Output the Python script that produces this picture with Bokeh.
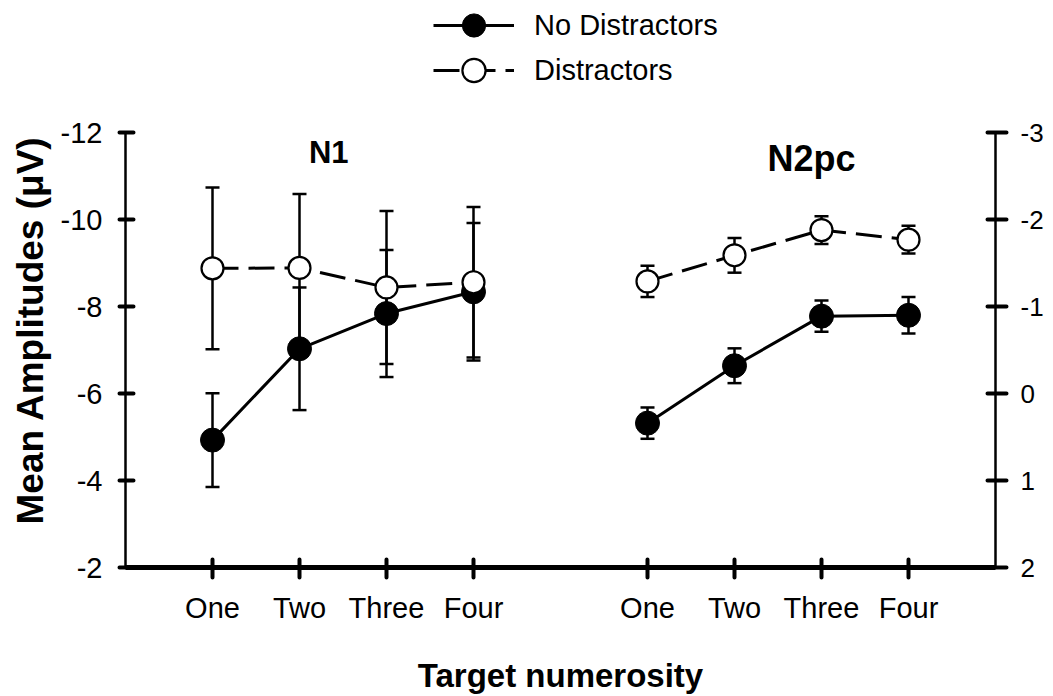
from bokeh.plotting import figure
from bokeh.models import (Range1d, LinearAxis, FixedTicker, Whisker, TeeHead,
                          ColumnDataSource, Legend, LegendItem, Label, Title)
from bokeh.embed import file_html
from bokeh.resources import INLINE

# ---------------- data ----------------
categories = ["One", "Two", "Three", "Four"]
panels = ["N1", "N2pc"]

n1_nodist = [-4.93, -7.03, -7.84, -8.34]
n1_nodist_err = [1.08, 1.41, 1.46, 1.58]
n1_dist = [-8.88, -8.89, -8.44, -8.56]
n1_dist_err = [1.86, 1.70, 1.76, 1.73]

n2pc_nodist = [0.34, -0.32, -0.89, -0.90]
n2pc_nodist_err = [0.18, 0.20, 0.18, 0.21]
n2pc_dist = [-1.29, -1.59, -1.88, -1.77]
n2pc_dist_err = [0.18, 0.20, 0.16, 0.16]

left_ticks = [-12, -10, -8, -6, -4, -2]
right_ticks = [-3, -2, -1, 0, 1, 2]

series_labels = ["No Distractors", "Distractors"]
y_title = "Mean Amplitudes (\u03bcV)"
x_title = "Target numerosity"

# ---------------- layout ----------------
FONT = "Liberation Sans"
W, H = 1053, 696
BL, BR, BB = 124, 58, 128
frame_h = H - BB
px_per_unit = 435.6 / 10.0
y_top = left_ticks[-1] - frame_h / px_per_unit
right_top = (y_top + 6) / 2.0  # right = (left + 6) / 2

x_n1 = [i + 1 for i in range(len(categories))]
x_n2 = [i + 6 for i in range(len(categories))]

p = figure(width=W, height=H, output_backend="svg", toolbar_location=None,
           title=None,
           x_range=Range1d(0, 10), y_range=Range1d(left_ticks[-1], y_top),
           min_border_left=BL, min_border_right=BR, min_border_top=0,
           min_border_bottom=BB)
p.extra_y_ranges = {"right": Range1d(right_ticks[-1], right_top)}
p.outline_line_color = None
p.xgrid.visible = False
p.ygrid.visible = False
p.background_fill_color = "white"
p.border_fill_color = "white"

# y-axis title as a left-side title (so it can be offset along the axis)
ytitle = Title(text=y_title, align="left", offset=43, vertical_align="bottom",
               text_font=FONT, text_font_size="37px", text_font_style="bold",
               text_color="black", standoff=14)
p.add_layout(ytitle, "left")

# left axis
ya = p.yaxis[0]
ya.bounds = (left_ticks[0], left_ticks[-1])
ya.ticker = FixedTicker(ticks=left_ticks)
ya.major_label_overrides = {t: str(t) for t in left_ticks}
ya.axis_line_width = 2.5
ya.axis_line_color = "black"
ya.major_tick_line_width = 4
ya.major_tick_line_cap = "round"
ya.major_tick_in = 8
ya.major_tick_out = 6
ya.minor_tick_line_color = None
ya.major_label_text_font = FONT
ya.major_label_text_font_size = "29px"
ya.major_label_text_color = "black"
ya.major_label_standoff = 17

# bottom axis
xa = p.xaxis[0]
xa.ticker = FixedTicker(ticks=x_n1 + x_n2)
xa.major_label_overrides = {x: c for x, c in zip(x_n1 + x_n2, categories + categories)}
xa.axis_line_width = 5
xa.axis_line_color = "black"
xa.major_tick_line_width = 4
xa.major_tick_line_cap = "round"
xa.major_tick_in = 8
xa.major_tick_out = 10
xa.minor_tick_line_color = None
xa.major_label_text_font = FONT
xa.major_label_text_font_size = "29px"
xa.major_label_text_color = "black"
xa.major_label_standoff = 14
xa.axis_label = x_title
xa.axis_label_text_font = FONT
xa.axis_label_text_font_size = "33px"
xa.axis_label_text_font_style = "bold"
xa.axis_label_text_color = "black"
xa.axis_label_standoff = 30

# right axis
ra = LinearAxis(y_range_name="right", bounds=(right_ticks[0], right_ticks[-1]),
                ticker=FixedTicker(ticks=right_ticks))
ra.major_label_overrides = {t: str(t) for t in right_ticks}
ra.axis_line_width = 2.5
ra.axis_line_color = "black"
ra.major_tick_line_width = 4
ra.major_tick_line_cap = "round"
ra.major_tick_in = 8
ra.major_tick_out = 11
ra.minor_tick_line_color = None
ra.major_label_text_font = FONT
ra.major_label_text_font_size = "26px"
ra.major_label_text_color = "black"
ra.major_label_standoff = 14
p.add_layout(ra, "right")


def whiskers(xs, ys, es, rng=None):
    src = ColumnDataSource(dict(x=xs, upper=[y - e for y, e in zip(ys, es)],
                                lower=[y + e for y, e in zip(ys, es)]))
    kw = {}
    if rng:
        kw["y_range_name"] = rng
    w = Whisker(source=src, base="x", upper="upper", lower="lower",
                line_width=2.5, line_color="black",
                upper_head=TeeHead(size=14, line_width=2.5, line_color="black"),
                lower_head=TeeHead(size=14, line_width=2.5, line_color="black"),
                **kw)
    p.add_layout(w)


whiskers(x_n1, n1_nodist, n1_nodist_err)
whiskers(x_n1, n1_dist, n1_dist_err)
whiskers(x_n2, n2pc_nodist, n2pc_nodist_err, "right")
whiskers(x_n2, n2pc_dist, n2pc_dist_err, "right")

DASH = "26 10"
l1 = p.line(x_n1, n1_nodist, line_width=3, line_color="black")
p.line(x_n2, n2pc_nodist, line_width=3, line_color="black", y_range_name="right")
l2 = p.line(x_n1, n1_dist, line_width=3, line_color="black", line_dash=DASH)
p.line(x_n2, n2pc_dist, line_width=3, line_color="black", line_dash=DASH,
       y_range_name="right")

s1 = p.scatter(x_n1, n1_nodist, size=24, fill_color="black", line_color="black")
p.scatter(x_n2, n2pc_nodist, size=24, fill_color="black", line_color="black",
          y_range_name="right")
s2 = p.scatter(x_n1, n1_dist, size=22, fill_color="white", line_color="black",
               line_width=2.2)
p.scatter(x_n2, n2pc_dist, size=22, fill_color="white", line_color="black",
          line_width=2.2, y_range_name="right")


def make_legend(label, renderers, loc):
    lg = Legend(items=[LegendItem(label=label, renderers=renderers)],
                location=loc, glyph_width=81, glyph_height=58,
                spacing=0, label_standoff=20, padding=0, margin=0,
                border_line_color=None, background_fill_alpha=0,
                label_text_font=FONT, label_text_font_size="29px",
                label_text_color="black", label_height=34)
    p.add_layout(lg)


make_legend(series_labels[0], [l1, s1], (308, 513))
make_legend(series_labels[1], [l2, s2], (308, 468))

# panel titles
p.add_layout(Label(x=2.336, y=-11.54, text=panels[0], text_align="center",
                   text_baseline="alphabetic", text_font=FONT,
                   text_font_size="31px", text_font_style="bold",
                   text_color="black"))
p.add_layout(Label(x=7.885, y=-11.40, text=panels[1], text_align="center",
                   text_baseline="alphabetic", text_font=FONT,
                   text_font_size="36px", text_font_style="bold",
                   text_color="black"))

open("out.html", "w").write(file_html(p, INLINE))
